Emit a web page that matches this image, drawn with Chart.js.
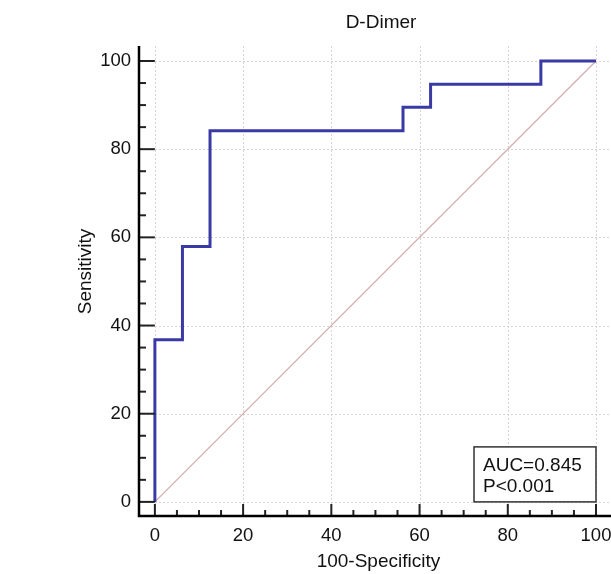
<!DOCTYPE html>
<html>
<head>
<meta charset="utf-8">
<script src="https://cdn.jsdelivr.net/npm/chart.js@4"></script>
<style>
html,body{margin:0;padding:0;background:#fff;}
canvas{display:block;}
</style>
</head>
<body>
<canvas id="c" width="611" height="574"></canvas>
<script>
// ---- data ----
const chartTitle = "D-Dimer";
const xTitle = "100-Specificity";
const yTitle = "Sensitivity";
const rocX = [0, 0, 6.25, 6.25, 12.5, 12.5, 56.25, 56.25, 62.5, 62.5, 87.5, 87.5, 100];
const rocY = [0, 36.8, 36.8, 57.9, 57.9, 84.2, 84.2, 89.5, 89.5, 94.7, 94.7, 100, 100];
const diagX = [0, 100];
const diagY = [0, 100];
const majorTicks = [0, 20, 40, 60, 80, 100];
const minorTicks = [5, 10, 15, 25, 30, 35, 45, 50, 55, 65, 70, 75, 85, 90, 95];
const boxLines = ["AUC=0.845", "P<0.001"];

const FONT = "'Liberation Sans', Arial, Helvetica, sans-serif";

const decor = {
  id: 'decor',
  beforeDatasetsDraw(chart) {
    const {ctx, chartArea: a, scales: {x, y}} = chart;
    ctx.save();
    ctx.strokeStyle = '#dcd4d4';
    ctx.lineWidth = 1;
    ctx.setLineDash([2, 2]);
    majorTicks.forEach(v => {
      const px = Math.round(x.getPixelForValue(v)) + 0.5;
      ctx.beginPath(); ctx.moveTo(px, a.top); ctx.lineTo(px, a.bottom); ctx.stroke();
      const py = Math.round(y.getPixelForValue(v)) + 0.5;
      ctx.beginPath(); ctx.moveTo(a.left, py); ctx.lineTo(a.right, py); ctx.stroke();
    });
    ctx.restore();
  },
  afterDatasetsDraw(chart) {
    const {ctx, chartArea: a, scales: {x, y}} = chart;
    ctx.save();
    // ticks (inward)
    ctx.strokeStyle = '#222';
    ctx.lineWidth = 2;
    majorTicks.forEach(v => {
      const px = x.getPixelForValue(v);
      ctx.beginPath(); ctx.moveTo(px, a.bottom); ctx.lineTo(px, a.bottom - 12); ctx.stroke();
      const py = y.getPixelForValue(v);
      ctx.beginPath(); ctx.moveTo(a.left, py); ctx.lineTo(x.getPixelForValue(0), py); ctx.stroke();
    });
    minorTicks.forEach(v => {
      const px = x.getPixelForValue(v);
      ctx.beginPath(); ctx.moveTo(px, a.bottom); ctx.lineTo(px, a.bottom - 6); ctx.stroke();
      const py = y.getPixelForValue(v);
      ctx.beginPath(); ctx.moveTo(a.left, py); ctx.lineTo(a.left + 7, py); ctx.stroke();
    });
    // axis lines
    ctx.strokeStyle = '#000';
    ctx.lineWidth = 2.5;
    ctx.beginPath();
    ctx.moveTo(a.left, a.top);
    ctx.lineTo(a.left, a.bottom);
    ctx.lineTo(a.right, a.bottom);
    ctx.stroke();
    // AUC box
    const bx1 = x.getPixelForValue(100), by2 = y.getPixelForValue(0);
    const bw = 122, bh = 55;
    ctx.fillStyle = '#fff';
    ctx.fillRect(bx1 - bw, by2 - bh, bw, bh);
    ctx.strokeStyle = '#333';
    ctx.lineWidth = 1.5;
    ctx.strokeRect(bx1 - bw, by2 - bh, bw, bh);
    ctx.fillStyle = '#111';
    ctx.font = '19px ' + FONT;
    ctx.textAlign = 'left';
    ctx.textBaseline = 'alphabetic';
    ctx.fillText(boxLines[0], bx1 - bw + 9, by2 - 31);
    ctx.fillText(boxLines[1], bx1 - bw + 9, by2 - 10);
    // titles
    ctx.font = '19px ' + FONT;
    ctx.textAlign = 'center';
    ctx.fillStyle = '#111';
    ctx.fillText(chartTitle, (a.left + a.right) / 2 + 6, 28);
    ctx.fillText(xTitle, (x.getPixelForValue(0) + x.getPixelForValue(100)) / 2 + 3, a.bottom + 51);
    ctx.save();
    ctx.translate(a.left - 48, (y.getPixelForValue(0) + y.getPixelForValue(100)) / 2 - 10);
    ctx.rotate(-Math.PI / 2);
    ctx.fillText(yTitle, 0, 0);
    ctx.restore();
    ctx.restore();
  }
};

new Chart(document.getElementById('c'), {
  type: 'scatter',
  data: {
    datasets: [
      {
        data: diagX.map((v, i) => ({x: v, y: diagY[i]})),
        showLine: true, borderColor: '#d6aaaa', borderWidth: 1.2,
        pointRadius: 0, fill: false, order: 2
      },
      {
        data: rocX.map((v, i) => ({x: v, y: rocY[i]})),
        showLine: true, borderColor: '#3a3aa6', borderWidth: 3,
        borderJoinStyle: 'miter', borderCapStyle: 'butt',
        pointRadius: 0, fill: false, order: 1
      }
    ]
  },
  options: {
    responsive: false,
    animation: false,
    devicePixelRatio: 1,
    layout: {padding: {top: 46, right: 0, left: 0, bottom: 0}},
    plugins: {legend: {display: false}, title: {display: false}, tooltip: {enabled: false}},
    scales: {
      x: {
        type: 'linear', min: -3.6, max: 103.4,
        grid: {display: false, drawTicks: false},
        border: {display: false},
        afterBuildTicks: s => { s.ticks = majorTicks.map(v => ({value: v})); },
        afterFit: s => { s.height = 58; s.paddingLeft = 0; s.paddingRight = 0; },
        ticks: {color: '#111', font: {size: 18.5, family: FONT}, padding: 9, maxRotation: 0, autoSkip: false}
      },
      y: {
        type: 'linear', min: -3.2, max: 103.4,
        grid: {display: false, drawTicks: false},
        border: {display: false},
        afterBuildTicks: s => { s.ticks = majorTicks.map(v => ({value: v})); },
        afterFit: s => { s.width = 139; s.paddingTop = 0; s.paddingBottom = 0; },
        ticks: {color: '#111', font: {size: 18.5, family: FONT}, padding: 8, autoSkip: false}
      }
    }
  },
  plugins: [decor]
});
</script>
</body>
</html>
